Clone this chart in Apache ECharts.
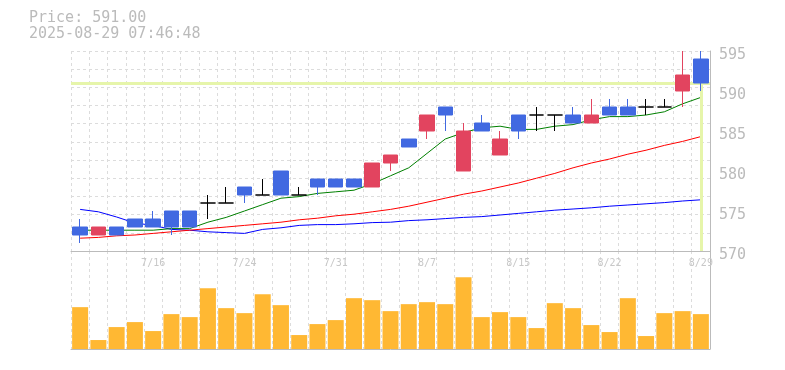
<!DOCTYPE html>
<html>
<head>
<meta charset="utf-8">
<script src="https://cdn.jsdelivr.net/npm/echarts@6/dist/echarts.min.js"></script>
<style>html,body{margin:0;padding:0;background:#fff;}#c{width:785px;height:370px;}</style>
</head>
<body>
<div id="c"></div>
<script>
const dates = ['7/10','7/11','7/14','7/15','7/16','7/17','7/18','7/22','7/23','7/24','7/25','7/28','7/29','7/30','7/31','8/1','8/4','8/5','8/6','8/7','8/8','8/12','8/13','8/14','8/15','8/18','8/19','8/20','8/21','8/22','8/25','8/26','8/27','8/28','8/29'];
const shownDates = ['7/16','7/24','7/31','8/7','8/15','8/22','8/29'];
const opens  = [573,572,573,574,574,575,575,576,576,578,577,580,577,579,579,579,578,581,584,585,588,580,586,582,587,587,587,587,586,588,588,588,588,590,594];
const closes = [572,573,572,573,573,573,573,576,576,577,577,577,577,578,578,578,581,582,583,587,587,585,585,584,585,587,587,586,587,587,587,588,588,592,591];
const lows   = [571,572,572,573,573,572,573,574,576,576,577,577,577,577,578,578,578,580,583,584,585,580,585,582,584,585,585,586,586,587,587,587,588,588,590];
const highs  = [574,573,573,574,575,575,575,577,578,578,579,580,578,579,579,579,581,582,584,587,588,586,587,585,587,588,587,588,589,589,589,589,589,595,595];
const ma5  = [572.6,572.6,572.6,572.6,572.6,572.8,572.8,573.6,574.2,575.0,575.8,576.6,576.8,577.2,577.4,577.6,578.4,579.4,580.4,582.2,584.0,584.8,585.4,585.6,585.2,585.2,585.6,585.8,586.4,586.8,586.8,587.0,587.4,588.4,589.2];
const ma25 = [571.6,571.7,571.9,572.0,572.2,572.4,572.6,572.8,573.0,573.2,573.4,573.6,573.9,574.1,574.4,574.6,574.9,575.2,575.6,576.1,576.6,577.1,577.5,578.0,578.5,579.1,579.7,580.4,581.0,581.5,582.1,582.6,583.2,583.7,584.3];
const ma75 = [575.2,574.9,574.25,573.5,573.2,572.7,572.6,572.4,572.3,572.2,572.7,572.9,573.2,573.3,573.3,573.4,573.55,573.6,573.8,573.9,574.05,574.2,574.3,574.5,574.7,574.9,575.1,575.25,575.4,575.6,575.75,575.9,576.05,576.25,576.4];
const volumes = [12600,2700,6600,8100,5400,10500,9600,18300,12300,10800,16500,13200,4200,7500,8700,15300,14700,11400,13500,14100,13500,21600,9600,11100,9600,6300,13800,12300,7200,5100,15300,3900,10800,11400,10500];
const yTicks = [570, 575, 580, 585, 590, 595];
const lastPrice = 591.00;
const stamp = '2025-08-29 07:46:48';

const candleData = dates.map((d, i) => [opens[i], closes[i], lows[i], highs[i]]);
const mono = 'DejaVu Sans Mono';
const gridLine = { show: true, lineStyle: { color: '#dcdcdc', type: [3, 3], width: 1 } };
const axisGray = '#bbbbbb';

const chart = echarts.init(document.getElementById('c'), null, { renderer: 'canvas' });
chart.setOption({
  animation: false,
  backgroundColor: '#ffffff',
  title: {
    text: 'Price: ' + lastPrice.toFixed(2) + '\n' + stamp,
    left: 29, top: 10.5, padding: 0,
    textStyle: { fontFamily: mono, fontSize: 15, lineHeight: 16, color: '#bbbbbb', fontWeight: 'normal' }
  },
  grid: [
    { left: 71, right: 75, top: 51, height: 200 },
    { left: 71, right: 75, top: 251, height: 98 }
  ],
  xAxis: [
    {
      type: 'category', gridIndex: 0, data: dates, boundaryGap: true,
      axisLine: { show: true, lineStyle: { color: axisGray } },
      axisTick: { show: false },
      axisLabel: {
        show: true, interval: 0, margin: 7,
        formatter: v => shownDates.includes(v) ? v : '',
        color: '#c8c8c8', fontFamily: mono, fontSize: 10
      },
      splitLine: Object.assign({ interval: 0 }, gridLine)
    },
    {
      type: 'category', gridIndex: 1, data: dates, boundaryGap: true,
      axisLine: { show: true, lineStyle: { color: axisGray } },
      axisTick: { show: false },
      axisLabel: { show: false },
      splitLine: Object.assign({ interval: 0 }, gridLine)
    }
  ],
  yAxis: [
    {
      type: 'value', gridIndex: 0, position: 'right',
      min: yTicks[0], max: yTicks[yTicks.length - 1], interval: 5,
      axisLine: { show: true, lineStyle: { color: axisGray } },
      axisTick: { show: false },
      axisLabel: { color: '#bbbbbb', fontFamily: mono, fontSize: 15, margin: 9, verticalAlign: 'top', lineHeight: 8 },
      splitLine: { show: false }
    },
    {
      type: 'value', gridIndex: 0, position: 'left', min: 0, max: 11, interval: 1,
      axisLine: { show: false }, axisTick: { show: false }, axisLabel: { show: false },
      splitLine: gridLine
    },
    {
      type: 'value', gridIndex: 1, position: 'right', min: 0, max: 29500,
      axisLine: { show: true, lineStyle: { color: axisGray } },
      axisTick: { show: false }, axisLabel: { show: false }, splitLine: { show: false }
    }
  ],
  series: [
    {
      name: 'price', type: 'line', xAxisIndex: 0, yAxisIndex: 0, data: [], z: 1, silent: true,
      markLine: {
        silent: true, symbol: 'none', animation: false, label: { show: false },
        lineStyle: { color: '#e6f5aa', width: 3, type: 'solid' },
        data: [
          { yAxis: lastPrice },
          [ { coord: [dates[dates.length - 1], lastPrice] }, { coord: [dates[dates.length - 1], yTicks[0]] } ]
        ]
      }
    },
    { name: 'MA75', type: 'line', xAxisIndex: 0, yAxisIndex: 0, data: ma75, symbol: 'none', z: 2,
      lineStyle: { color: '#0000ff', width: 1 } },
    { name: 'MA25', type: 'line', xAxisIndex: 0, yAxisIndex: 0, data: ma25, symbol: 'none', z: 2,
      lineStyle: { color: '#ff0000', width: 1 } },
    { name: 'MA5', type: 'line', xAxisIndex: 0, yAxisIndex: 0, data: ma5, symbol: 'none', z: 2,
      lineStyle: { color: '#008000', width: 1 } },
    {
      name: 'candle', type: 'candlestick', xAxisIndex: 0, yAxisIndex: 0, data: candleData,
      barWidth: 15, z: 5,
      itemStyle: {
        color: '#e2445f', color0: '#4169e1',
        borderColor: '#e2445f', borderColor0: '#4169e1',
        borderColorDoji: '#000000', borderWidth: 1
      }
    },
    {
      name: 'volume', type: 'bar', xAxisIndex: 1, yAxisIndex: 2, data: volumes,
      barWidth: 16, itemStyle: { color: '#ffb833' }
    }
  ]
});
</script>
</body>
</html>
